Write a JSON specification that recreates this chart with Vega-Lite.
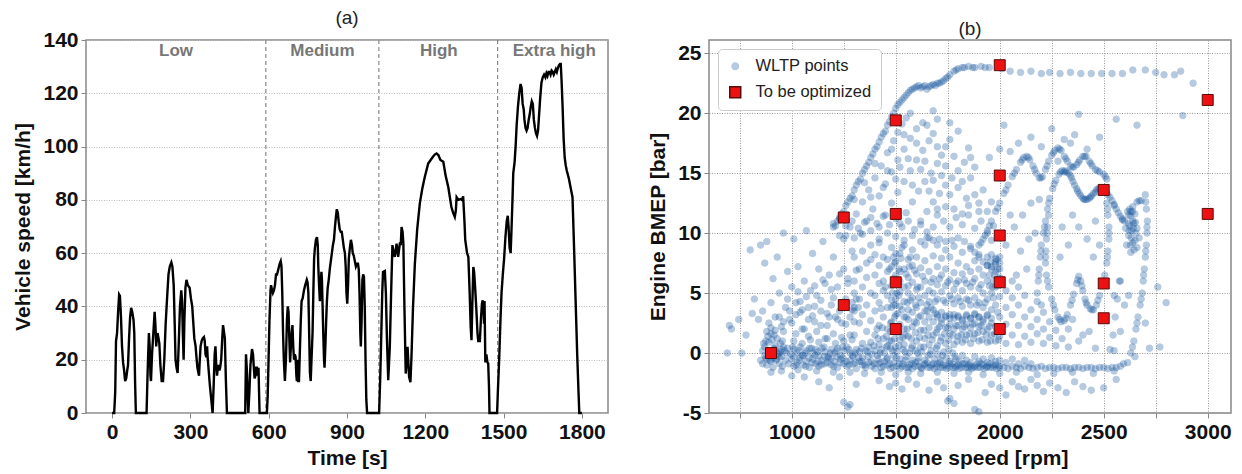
{
"$schema": "https://vega.github.io/schema/vega-lite/v6.json",
"padding": {"left": 12, "top": 8, "right": 2, "bottom": 0},
"spacing": 37,
"resolve": {"scale": {"color": "independent", "shape": "independent", "stroke": "independent", "opacity": "independent", "size": "independent"}, "legend": {"color": "independent", "shape": "independent", "stroke": "independent", "opacity": "independent", "size": "independent"}},
"config": {
  "font": "Liberation Sans",
  "view": {"stroke": "#888", "strokeWidth": 1.5},
  "axis": {"labelFont": "Liberation Sans", "labelFontSize": 21, "labelFontWeight": "bold", "labelColor": "#111", "labelPadding": 3,
           "titleFont": "Liberation Sans", "titleFontSize": 21, "titleFontWeight": "bold", "titleColor": "#111",
           "domain": false, "tickColor": "#888", "tickSize": 5, "gridDash": [1, 1.5], "gridColor": "#999", "gridWidth": 1, "format": "d"},
  "axisY": {"titlePadding": 9},
  "axisX": {"titlePadding": 5},
  "title": {"fontSize": 19, "fontWeight": "normal", "font": "Liberation Sans", "color": "#222", "offset": 1}
},
"datasets": {
"phases": [{"t": 589}, {"t": 1022}, {"t": 1477}],
"plabels": [{"t": 245, "v": 136, "label": "Low"}, {"t": 806, "v": 136, "label": "Medium"}, {"t": 1252, "v": 136, "label": "High"}, {"t": 1694, "v": 136, "label": "Extra high"}],
"speed": [
{"t":0,"v":0},{"t":8,"v":0},{"t":12,"v":8},{"t":15,"v":27},{"t":19,"v":30},{"t":23,"v":38},{"t":27,"v":44.5},{"t":30,"v":44},{"t":34,"v":36},{"t":38,"v":25},{"t":42,"v":19},{"t":46,"v":16},{"t":50,"v":12},{"t":54,"v":13},{"t":58,"v":16},{"t":61,"v":18},{"t":65,"v":28},{"t":69,"v":36},{"t":73,"v":39.5},{"t":77,"v":38},{"t":82,"v":35},{"t":85,"v":30},{"t":88,"v":12},{"t":91,"v":0},
{"t":132,"v":0},{"t":136,"v":15},{"t":141,"v":30},{"t":144,"v":25},{"t":147,"v":14},{"t":149,"v":12},{"t":153,"v":22},{"t":158,"v":30},{"t":163,"v":38},{"t":166,"v":33},{"t":169,"v":25},{"t":171,"v":28},{"t":174,"v":30},{"t":178,"v":28},{"t":181,"v":26},{"t":185,"v":18},{"t":190,"v":12},{"t":195,"v":12},{"t":200,"v":20},{"t":205,"v":33},{"t":210,"v":42},{"t":216,"v":52},{"t":221,"v":55},{"t":227,"v":56.5},{"t":231,"v":55},{"t":236,"v":48},{"t":240,"v":33},{"t":243,"v":20},{"t":247,"v":17},{"t":251,"v":15},{"t":255,"v":25},{"t":260,"v":40},{"t":265,"v":46},{"t":268,"v":42},{"t":271,"v":30},{"t":274,"v":20},{"t":277,"v":35},{"t":281,"v":47},{"t":285,"v":50},{"t":290,"v":48},{"t":297,"v":47},{"t":302,"v":43},{"t":307,"v":40},{"t":311,"v":34},{"t":315,"v":28},{"t":320,"v":25},{"t":324,"v":20},{"t":327,"v":17},{"t":333,"v":14},{"t":336,"v":20},{"t":339,"v":25},{"t":343,"v":27},{"t":347,"v":28},{"t":352,"v":28.5},{"t":355,"v":27},{"t":358,"v":22},{"t":361,"v":21},{"t":364,"v":25},{"t":366,"v":21},{"t":370,"v":16},{"t":375,"v":10},{"t":380,"v":5},{"t":385,"v":0},{"t":389,"v":10},{"t":393,"v":22},{"t":396,"v":25},{"t":399,"v":18},{"t":402,"v":14},{"t":405,"v":17},{"t":408,"v":18},{"t":411,"v":16},{"t":414,"v":17},{"t":418,"v":20},{"t":422,"v":28},{"t":425,"v":33},{"t":428,"v":31},{"t":432,"v":28},{"t":436,"v":12},{"t":440,"v":0},
{"t":510,"v":0},{"t":513,"v":22},{"t":517,"v":15},{"t":520,"v":5},{"t":522,"v":0},{"t":526,"v":8},{"t":530,"v":18},{"t":536,"v":24},{"t":540,"v":22},{"t":543,"v":17},{"t":546,"v":13},{"t":549,"v":14},{"t":552,"v":17},{"t":555,"v":17},{"t":558,"v":14},{"t":561,"v":17},{"t":563,"v":8},{"t":565,"v":0},
{"t":593,"v":0},{"t":596,"v":6},{"t":599,"v":18},{"t":603,"v":35},{"t":607,"v":46},{"t":609,"v":48},{"t":613,"v":46},{"t":616,"v":45},{"t":620,"v":46},{"t":624,"v":48},{"t":628,"v":52},{"t":632,"v":52},{"t":637,"v":54},{"t":642,"v":56},{"t":646,"v":57},{"t":649,"v":55},{"t":652,"v":45},{"t":655,"v":30},{"t":658,"v":20},{"t":662,"v":12},{"t":666,"v":20},{"t":670,"v":35},{"t":673,"v":40},{"t":676,"v":38},{"t":679,"v":28},{"t":682,"v":19},{"t":685,"v":25},{"t":688,"v":30},{"t":691,"v":33},{"t":694,"v":25},{"t":697,"v":20},{"t":700,"v":22},{"t":703,"v":21},{"t":706,"v":14},{"t":708,"v":12},{"t":711,"v":20},{"t":713,"v":12},{"t":716,"v":12},{"t":719,"v":22},{"t":723,"v":35},{"t":726,"v":42},{"t":730,"v":43},{"t":735,"v":46},{"t":740,"v":48},{"t":746,"v":50},{"t":749,"v":49},{"t":752,"v":45},{"t":755,"v":30},{"t":758,"v":15},{"t":761,"v":12},{"t":764,"v":20},{"t":768,"v":30},{"t":771,"v":45},{"t":774,"v":58},{"t":777,"v":62},{"t":781,"v":65},{"t":785,"v":66},{"t":788,"v":63},{"t":790,"v":55},{"t":793,"v":48},{"t":796,"v":42},{"t":799,"v":48},{"t":802,"v":53},{"t":804,"v":50},{"t":806,"v":42},{"t":809,"v":30},{"t":812,"v":20},{"t":814,"v":17},{"t":817,"v":25},{"t":820,"v":34},{"t":823,"v":42},{"t":826,"v":47},{"t":830,"v":50},{"t":834,"v":54},{"t":838,"v":57},{"t":842,"v":60},{"t":846,"v":63},{"t":850,"v":65},{"t":854,"v":70},{"t":858,"v":74},{"t":861,"v":76.5},{"t":865,"v":75},{"t":868,"v":72},{"t":872,"v":69},{"t":876,"v":68},{"t":880,"v":68},{"t":884,"v":65},{"t":888,"v":62},{"t":892,"v":60},{"t":895,"v":55},{"t":898,"v":45},{"t":901,"v":41},{"t":904,"v":48},{"t":907,"v":58},{"t":911,"v":62},{"t":915,"v":65},{"t":919,"v":63},{"t":922,"v":60},{"t":926,"v":59},{"t":930,"v":57},{"t":934,"v":55},{"t":938,"v":56},{"t":942,"v":56},{"t":945,"v":54},{"t":948,"v":45},{"t":951,"v":30},{"t":953,"v":25},{"t":956,"v":35},{"t":959,"v":50},{"t":962,"v":52},{"t":965,"v":51},{"t":968,"v":40},{"t":971,"v":20},{"t":974,"v":5},{"t":977,"v":0},
{"t":1023,"v":0},{"t":1027,"v":12},{"t":1031,"v":28},{"t":1035,"v":45},{"t":1038,"v":52.9},{"t":1045,"v":53.3},{"t":1049,"v":45},{"t":1053,"v":28},{"t":1058,"v":12.3},{"t":1064,"v":24.8},{"t":1069,"v":45},{"t":1074,"v":63},{"t":1079,"v":60},{"t":1083,"v":58.6},{"t":1090,"v":63.6},{"t":1096,"v":58.6},{"t":1103,"v":64},{"t":1106,"v":63},{"t":1109,"v":69.8},{"t":1113,"v":68},{"t":1116,"v":63.6},{"t":1120,"v":40},{"t":1125,"v":14.8},{"t":1129,"v":20},{"t":1132,"v":24.8},{"t":1138,"v":13.5},{"t":1143,"v":11.6},{"t":1147,"v":21},{"t":1153,"v":40},{"t":1160,"v":56},{"t":1169,"v":69},{"t":1179,"v":78.7},{"t":1188,"v":84},{"t":1198,"v":88.6},{"t":1211,"v":93.6},{"t":1228,"v":96},{"t":1236,"v":97},{"t":1243,"v":97.4},{"t":1250,"v":96.8},{"t":1258,"v":95},{"t":1269,"v":94.3},{"t":1278,"v":89},{"t":1288,"v":84.8},{"t":1300,"v":77.3},{"t":1307,"v":75},{"t":1313,"v":73.6},{"t":1317,"v":76},{"t":1320,"v":81},{"t":1327,"v":80},{"t":1335,"v":80.3},{"t":1340,"v":80},{"t":1345,"v":81.3},{"t":1350,"v":72},{"t":1353,"v":65},{"t":1356,"v":62.9},{"t":1360,"v":60},{"t":1365,"v":58.6},{"t":1370,"v":45},{"t":1374,"v":32},{"t":1377,"v":27.3},{"t":1380,"v":40},{"t":1384,"v":54.8},{"t":1387,"v":53},{"t":1390,"v":48.6},{"t":1395,"v":40},{"t":1400,"v":30},{"t":1403,"v":27},{"t":1409,"v":27},{"t":1413,"v":35},{"t":1417,"v":41},{"t":1420,"v":42.3},{"t":1423,"v":40},{"t":1425,"v":33.5},{"t":1427,"v":42},{"t":1430,"v":19},{"t":1434,"v":22},{"t":1438,"v":19},{"t":1441,"v":18.6},{"t":1444,"v":10},{"t":1446,"v":0},
{"t":1475,"v":0},{"t":1478,"v":8},{"t":1483,"v":20},{"t":1488,"v":35},{"t":1492,"v":45},{"t":1497,"v":52},{"t":1502,"v":58},{"t":1507,"v":66},{"t":1512,"v":72},{"t":1516,"v":74},{"t":1519,"v":70},{"t":1523,"v":62},{"t":1527,"v":60},{"t":1530,"v":68},{"t":1534,"v":80},{"t":1537,"v":90},{"t":1542,"v":94},{"t":1546,"v":100},{"t":1550,"v":108},{"t":1555,"v":115},{"t":1560,"v":120},{"t":1565,"v":123.5},{"t":1569,"v":122},{"t":1573,"v":116},{"t":1577,"v":114},{"t":1580,"v":110},{"t":1584,"v":107},{"t":1588,"v":106},{"t":1592,"v":107},{"t":1596,"v":110},{"t":1600,"v":112},{"t":1604,"v":115},{"t":1608,"v":117},{"t":1612,"v":116},{"t":1616,"v":110},{"t":1620,"v":107},{"t":1624,"v":105},{"t":1628,"v":104},{"t":1632,"v":106},{"t":1636,"v":112},{"t":1640,"v":118},{"t":1645,"v":124},{"t":1650,"v":126},{"t":1655,"v":127},{"t":1660,"v":126},{"t":1664,"v":127.5},{"t":1668,"v":126.5},{"t":1672,"v":128},{"t":1676,"v":128},{"t":1680,"v":127},{"t":1684,"v":128.5},{"t":1688,"v":128},{"t":1692,"v":127},{"t":1696,"v":128},{"t":1700,"v":129},{"t":1704,"v":128},{"t":1708,"v":129.5},{"t":1712,"v":130.5},{"t":1716,"v":131},{"t":1719,"v":131},{"t":1722,"v":125},{"t":1726,"v":115},{"t":1730,"v":103},{"t":1734,"v":96},{"t":1738,"v":93},{"t":1742,"v":91},{"t":1750,"v":88},{"t":1758,"v":84},{"t":1764,"v":81},{"t":1770,"v":62},{"t":1776,"v":42},{"t":1782,"v":22},{"t":1787,"v":8},{"t":1790,"v":0},{"t":1800,"v":0}
],
"opt": [{"x":900,"y":0},{"x":1250,"y":4},{"x":1250,"y":11.3},{"x":1500,"y":2},{"x":1500,"y":5.9},{"x":1500,"y":11.6},{"x":1500,"y":19.4},{"x":2000,"y":2},{"x":2000,"y":5.9},{"x":2000,"y":9.8},{"x":2000,"y":14.8},{"x":2000,"y":24},{"x":2500,"y":2.9},{"x":2500,"y":5.8},{"x":2500,"y":13.6},{"x":3000,"y":11.6},{"x":3000,"y":21.1}],
"wltp": [
{"x":850,"y":-0.6},{"x":860,"y":-0.9},{"x":875,"y":-0.4},{"x":880,"y":-1.0},{"x":900,"y":-0.7},{"x":910,"y":-1.2},{"x":925,"y":-0.5},{"x":940,"y":-0.9},{"x":955,"y":-1.1},{"x":970,"y":-0.6},{"x":985,"y":-0.9},{"x":1000,"y":-0.5},{"x":1010,"y":-1.1},{"x":1025,"y":-0.8},{"x":1040,"y":-0.4},{"x":1055,"y":-1.0},{"x":1070,"y":-0.7},{"x":1085,"y":-1.2},{"x":1100,"y":-0.5},{"x":1115,"y":-0.9},{"x":1130,"y":-1.1},{"x":1145,"y":-0.6},{"x":1160,"y":-0.9},{"x":1175,"y":-0.4},{"x":1190,"y":-1.0},{"x":1205,"y":-0.7},{"x":1220,"y":-1.2},{"x":1235,"y":-0.5},{"x":1250,"y":-0.9},{"x":1265,"y":-1.1},{"x":1280,"y":-0.6},{"x":1295,"y":-0.9},{"x":1310,"y":-1.3},{"x":1325,"y":-0.7},{"x":1340,"y":-1.0},{"x":1355,"y":-1.2},{"x":1370,"y":-0.8},{"x":1385,"y":-1.1},{"x":1400,"y":-1.3},{"x":1415,"y":-0.9},{"x":1430,"y":-1.2},{"x":1445,"y":-0.7},{"x":1460,"y":-1.0},{"x":1475,"y":-1.3},{"x":1490,"y":-0.8},{"x":1505,"y":-1.1},{"x":1520,"y":-1.3},{"x":1535,"y":-0.9},{"x":1550,"y":-1.2},{"x":1565,"y":-1.0},{"x":1580,"y":-1.3},{"x":1595,"y":-0.8},{"x":1610,"y":-1.1},{"x":1625,"y":-1.3},{"x":1640,"y":-0.9},{"x":1655,"y":-1.2},{"x":1670,"y":-1.0},{"x":1685,"y":-1.3},{"x":1700,"y":-0.9},{"x":1715,"y":-1.2},{"x":1730,"y":-1.0},{"x":1745,"y":-1.3},{"x":1760,"y":-0.9},{"x":1775,"y":-1.2},{"x":1790,"y":-1.1},{"x":1805,"y":-1.3},{"x":1820,"y":-0.9},{"x":1835,"y":-1.2},{"x":1850,"y":-1.0},{"x":1865,"y":-1.3},{"x":1880,"y":-1.1},{"x":1895,"y":-1.2},{"x":1910,"y":-0.9},{"x":1925,"y":-1.3},{"x":1940,"y":-1.1},{"x":1955,"y":-1.2},{"x":1970,"y":-1.0},{"x":1985,"y":-1.3},{"x":2000,"y":-1.1},{"x":2020,"y":-1.2},{"x":2040,"y":-1.3},{"x":2060,"y":-1.1},{"x":2080,"y":-1.2},{"x":2100,"y":-1.3},{"x":2120,"y":-1.1},{"x":2140,"y":-1.2},{"x":2160,"y":-1.3},{"x":2180,"y":-1.2},{"x":2200,"y":-1.1},{"x":2220,"y":-1.3},{"x":2240,"y":-1.2},{"x":2260,"y":-1.2},{"x":2280,"y":-1.3},{"x":2300,"y":-1.2},{"x":2320,"y":-1.2},{"x":2340,"y":-1.3},{"x":2360,"y":-1.2},{"x":2380,"y":-1.2},{"x":2400,"y":-1.3},{"x":2420,"y":-1.2},{"x":2440,"y":-1.2},{"x":2460,"y":-1.3},{"x":2480,"y":-1.2},{"x":2500,"y":-1.2},{"x":2520,"y":-1.3},{"x":2540,"y":-1.2},{"x":2560,"y":-1.2},{"x":2580,"y":-1.1},{"x":2595,"y":-0.9},
{"x":1008,"y":-0.3},{"x":1022,"y":-1.0},{"x":1037,"y":-0.6},{"x":1052,"y":-0.2},{"x":1067,"y":-1.1},{"x":1082,"y":-0.4},{"x":1097,"y":-0.8},{"x":1112,"y":-0.2},{"x":1127,"y":-0.7},{"x":1142,"y":-1.0},{"x":1157,"y":-0.3},{"x":1172,"y":-0.8},{"x":1187,"y":-0.5},{"x":1202,"y":-1.1},{"x":1217,"y":-0.3},{"x":1232,"y":-0.8},{"x":1247,"y":-0.4},{"x":1262,"y":-0.7},{"x":1277,"y":-1.0},{"x":1292,"y":-0.2},{"x":1307,"y":-0.8},{"x":1322,"y":-0.4},{"x":1337,"y":-0.7},{"x":1352,"y":-1.0},{"x":1367,"y":-0.3},{"x":1382,"y":-0.7},{"x":1397,"y":-0.9},{"x":1412,"y":-0.2},{"x":1427,"y":-0.8},{"x":1442,"y":-1.1},{"x":1457,"y":-0.5},{"x":1472,"y":-0.9},{"x":1487,"y":-1.2},{"x":1502,"y":-0.4},{"x":1517,"y":-0.9},{"x":1532,"y":-1.1},{"x":1547,"y":-0.6},{"x":1562,"y":-1.2},{"x":1577,"y":-0.9},{"x":1592,"y":-1.1},{"x":1607,"y":-0.7},{"x":1622,"y":-1.2},{"x":1637,"y":-1.0},{"x":1652,"y":-0.8},{"x":1667,"y":-1.2},{"x":1682,"y":-0.9},{"x":1697,"y":-1.1},{"x":1712,"y":-0.8},{"x":1727,"y":-1.2},{"x":1742,"y":-1.0},{"x":1757,"y":-1.2},{"x":1772,"y":-0.9},{"x":1787,"y":-1.2},{"x":1802,"y":-1.0},{"x":1817,"y":-1.2},{"x":1832,"y":-0.9},{"x":1847,"y":-1.2},{"x":1862,"y":-1.1},{"x":1877,"y":-1.2},{"x":1892,"y":-0.9},{"x":1907,"y":-1.2},{"x":1922,"y":-1.0},{"x":1937,"y":-1.2},{"x":1952,"y":-0.9},{"x":1967,"y":-1.2},{"x":1982,"y":-1.0},{"x":1997,"y":-1.2},
{"x":915,"y":0.4},{"x":945,"y":0.1},{"x":975,"y":0.0},{"x":1005,"y":0.5},{"x":1035,"y":0.2},{"x":1065,"y":0.0},{"x":1095,"y":0.4},{"x":1125,"y":0.1},{"x":1155,"y":0.5},{"x":1185,"y":0.0},{"x":1215,"y":0.2},{"x":1245,"y":0.5},{"x":1275,"y":0.3},{"x":1305,"y":0.0},{"x":1335,"y":0.4},{"x":1365,"y":0.1},{"x":1395,"y":0.6},{"x":1425,"y":0.0},{"x":1455,"y":0.5},{"x":1485,"y":0.2},{"x":1515,"y":0.6},{"x":1545,"y":0.1},{"x":1575,"y":0.4},{"x":1605,"y":0.0},{"x":1635,"y":0.5},{"x":1665,"y":-0.1},{"x":1695,"y":0.4},{"x":1725,"y":-0.2},{"x":1755,"y":0.3},{"x":1785,"y":-0.3},
{"x":890,"y":0.2},{"x":905,"y":-0.2},{"x":920,"y":0.3},{"x":935,"y":0.0},{"x":950,"y":-0.3},{"x":965,"y":0.2},{"x":980,"y":0.4},{"x":995,"y":-0.1},{"x":1010,"y":0.3},{"x":1025,"y":0.0},{"x":1040,"y":0.5},{"x":1055,"y":-0.2},{"x":1070,"y":0.2},{"x":1085,"y":0.4},{"x":1100,"y":0.0},{"x":1115,"y":0.3},{"x":1130,"y":-0.2},{"x":1145,"y":0.4},{"x":1160,"y":0.1},{"x":1175,"y":-0.3},{"x":1190,"y":0.3},{"x":1205,"y":0.0},{"x":1220,"y":0.4},{"x":1235,"y":-0.2},{"x":1250,"y":0.2},{"x":1265,"y":0.5},{"x":1280,"y":0.0},{"x":1295,"y":-0.3},{"x":1310,"y":0.3},{"x":1325,"y":0.1},{"x":1340,"y":-0.4},{"x":1355,"y":0.2},{"x":1370,"y":0.5},{"x":1385,"y":-0.1},{"x":1400,"y":0.2},{"x":1415,"y":-0.5},{"x":1430,"y":0.3},{"x":1445,"y":0.0},{"x":1460,"y":-0.4},{"x":1475,"y":0.4},{"x":1490,"y":-0.2},{"x":1505,"y":0.1},{"x":1520,"y":-0.5},{"x":1535,"y":0.3},{"x":1550,"y":-0.3},{"x":1565,"y":0.0},{"x":1580,"y":-0.6},{"x":1595,"y":0.2},{"x":1610,"y":-0.4},{"x":1625,"y":0.1},{"x":1640,"y":-0.6},{"x":1655,"y":-0.2},{"x":1670,"y":0.2},{"x":1685,"y":-0.5},{"x":1700,"y":-0.1},{"x":1715,"y":-0.6},{"x":1730,"y":0.1},{"x":1745,"y":-0.4},{"x":1760,"y":-0.7},{"x":1775,"y":0.0},{"x":1790,"y":-0.5},{"x":1805,"y":-0.7},{"x":1820,"y":-0.2},{"x":1840,"y":-0.6},{"x":1860,"y":-0.8},{"x":1880,"y":-0.3},{"x":1900,"y":-0.7},{"x":1920,"y":-0.5},{"x":1940,"y":-0.8},{"x":1960,"y":-0.4},{"x":1980,"y":-0.7},{"x":2000,"y":-0.6},{"x":2030,"y":-0.8},{"x":2060,"y":-0.5},{"x":2090,"y":-0.9},{"x":2120,"y":-0.6},{"x":2150,"y":-0.9},
{"x":950,"y":-1.5},{"x":1030,"y":-1.4},{"x":1120,"y":-1.5},{"x":1200,"y":-1.6},{"x":1280,"y":-1.6},{"x":1350,"y":-1.7},{"x":1430,"y":-1.6},{"x":1500,"y":-1.8},{"x":1560,"y":-1.6},{"x":1620,"y":-1.7},{"x":1700,"y":-1.6},{"x":1780,"y":-1.7},{"x":1850,"y":-1.6},{"x":1920,"y":-1.8},{"x":2000,"y":-1.7},{"x":2080,"y":-1.6},{"x":2180,"y":-1.8},{"x":2260,"y":-1.7},{"x":2350,"y":-1.6},{"x":2450,"y":-1.7},{"x":2550,"y":-1.5},
{"x":1250,"y":-4.1},{"x":1280,"y":-4.3},{"x":1270,"y":-4.5},{"x":1130,"y":-2.4},{"x":1180,"y":-2.9},{"x":1230,"y":-2.0},{"x":1310,"y":-2.6},{"x":1420,"y":-2.3},{"x":1470,"y":-2.8},{"x":1500,"y":-2.5},{"x":1530,"y":-3.0},{"x":1560,"y":-2.2},{"x":1600,"y":-2.6},{"x":1660,"y":-3.1},{"x":1700,"y":-2.4},{"x":1730,"y":-2.9},{"x":1760,"y":-3.8},{"x":1780,"y":-4.2},{"x":1800,"y":-2.7},{"x":1850,"y":-2.2},{"x":1880,"y":-4.7},{"x":1900,"y":-4.9},{"x":1930,"y":-3.3},{"x":1960,"y":-2.6},{"x":2000,"y":-2.9},{"x":2030,"y":-3.5},{"x":2060,"y":-2.4},{"x":2090,"y":-2.8},{"x":2120,"y":-3.0},{"x":2150,"y":-2.2},{"x":2180,"y":-2.7},{"x":2210,"y":-3.2},{"x":2240,"y":-2.5},{"x":2280,"y":-2.9},{"x":2320,"y":-3.3},{"x":2360,"y":-2.4},{"x":2400,"y":-2.8},{"x":2440,"y":-3.1},{"x":2500,"y":-2.9},{"x":2560,"y":-2.2},{"x":1060,"y":-2.0},{"x":1000,"y":-1.9},{"x":900,"y":-1.6},{"x":1750,"y":-4.0},
{"x":870,"y":0.5},{"x":875,"y":1.0},{"x":885,"y":1.4},{"x":900,"y":1.6},{"x":915,"y":1.5},{"x":930,"y":1.2},{"x":945,"y":0.8},{"x":950,"y":0.3},{"x":870,"y":-0.2},{"x":880,"y":-0.5},{"x":895,"y":-0.6},{"x":910,"y":-0.4},{"x":925,"y":-0.6},{"x":940,"y":-0.3},{"x":860,"y":0.2},{"x":865,"y":0.8},{"x":890,"y":0.9},{"x":905,"y":1.1},{"x":920,"y":0.6},{"x":935,"y":-0.1},{"x":955,"y":1.0},{"x":960,"y":0.5},{"x":880,"y":1.8},{"x":900,"y":2.1},{"x":920,"y":1.9},
{"x":690,"y":0.0},{"x":700,"y":2.3},{"x":710,"y":2.0},{"x":745,"y":2.8},{"x":760,"y":0.0},{"x":780,"y":1.5},{"x":800,"y":8.6},{"x":810,"y":3.3},{"x":820,"y":4.5},{"x":840,"y":2.8},{"x":850,"y":9.0},{"x":860,"y":3.5},{"x":870,"y":7.5},{"x":880,"y":9.3},{"x":890,"y":2.5},{"x":900,"y":4.2},{"x":910,"y":6.2},{"x":920,"y":3.0},{"x":930,"y":8.0},{"x":940,"y":5.0},{"x":950,"y":2.2},{"x":960,"y":10.0},{"x":970,"y":3.8},{"x":980,"y":6.8},{"x":990,"y":2.8},{"x":1000,"y":5.5},{"x":1010,"y":9.5},{"x":1020,"y":3.2},{"x":1030,"y":7.2},{"x":1040,"y":4.3},{"x":1050,"y":2.0},{"x":1060,"y":6.0},{"x":1070,"y":10.2},{"x":1080,"y":3.8},{"x":1090,"y":5.2},{"x":1100,"y":8.3},{"x":1110,"y":2.6},{"x":1120,"y":4.8},{"x":1130,"y":7.0},{"x":1140,"y":3.5},{"x":1150,"y":9.3},{"x":1160,"y":5.8},{"x":1170,"y":2.3},{"x":1180,"y":6.5},{"x":1190,"y":4.0},{"x":1200,"y":8.0},{"x":1210,"y":3.0},{"x":1220,"y":5.5},{"x":1230,"y":9.8},{"x":1240,"y":2.5},{"x":1250,"y":7.0},{"x":1260,"y":4.5},{"x":1270,"y":6.2},{"x":1280,"y":3.0},{"x":1290,"y":8.5},{"x":1300,"y":5.0},{"x":940,"y":3.0},{"x":960,"y":1.8},{"x":980,"y":4.5},{"x":1000,"y":2.5},{"x":1020,"y":1.6},{"x":1040,"y":3.4},{"x":1060,"y":2.0},{"x":1080,"y":1.4},{"x":1100,"y":3.1},{"x":1120,"y":1.8},{"x":1140,"y":2.3},{"x":1160,"y":1.2},{"x":1180,"y":3.0},{"x":1200,"y":1.6},{"x":1220,"y":2.8},{"x":1240,"y":1.3},{"x":1260,"y":2.4},{"x":1280,"y":1.5},{"x":1300,"y":2.6},{"x":1010,"y":1.0},{"x":1050,"y":0.8},{"x":1090,"y":1.1},{"x":1130,"y":0.9},{"x":1170,"y":1.2},{"x":1210,"y":0.8},{"x":1250,"y":1.0},{"x":1290,"y":1.1},
{"x":960,"y":2.6},{"x":990,"y":3.5},{"x":1020,"y":4.2},{"x":1050,"y":3.6},{"x":1080,"y":2.8},{"x":1110,"y":3.9},{"x":1140,"y":4.4},{"x":1170,"y":3.3},{"x":1200,"y":4.6},{"x":1230,"y":3.5},{"x":1260,"y":4.2},{"x":1290,"y":3.6},{"x":1030,"y":5.1},{"x":1070,"y":4.7},{"x":1110,"y":5.6},{"x":1150,"y":6.1},{"x":1190,"y":5.3},{"x":1230,"y":6.6},{"x":1270,"y":5.8},{"x":1310,"y":6.9},
{"x":1200,"y":10.5},{"x":1220,"y":11.0},{"x":1240,"y":11.6},{"x":1260,"y":12.3},{"x":1280,"y":12.9},{"x":1300,"y":13.6},{"x":1320,"y":14.3},{"x":1340,"y":15.0},{"x":1360,"y":15.6},{"x":1380,"y":16.3},{"x":1400,"y":17.0},{"x":1420,"y":17.6},{"x":1440,"y":18.3},{"x":1460,"y":19.0},{"x":1480,"y":19.7},{"x":1500,"y":20.4},{"x":1520,"y":20.9},{"x":1540,"y":21.3},{"x":1560,"y":21.7},{"x":1580,"y":22.0},{"x":1600,"y":22.2},{"x":1620,"y":22.1},{"x":1640,"y":22.3},{"x":1660,"y":22.2},{"x":1680,"y":22.4},{"x":1700,"y":22.5},{"x":1720,"y":22.6},{"x":1740,"y":22.9},{"x":1760,"y":23.2},{"x":1780,"y":23.5},{"x":1800,"y":23.7},{"x":1820,"y":23.8},{"x":1850,"y":23.9},{"x":1880,"y":23.8},{"x":1910,"y":23.9},{"x":1950,"y":23.8},
{"x":1210,"y":10.6},{"x":1250,"y":11.8},{"x":1290,"y":13.1},{"x":1330,"y":14.5},{"x":1370,"y":15.9},{"x":1410,"y":17.2},{"x":1450,"y":18.5},{"x":1490,"y":20.0},{"x":1530,"y":21.1},{"x":1570,"y":21.9},{"x":1610,"y":22.3},{"x":1650,"y":22.0},{"x":1690,"y":22.3},{"x":1730,"y":22.7},
{"x":1230,"y":11.3},{"x":1270,"y":12.6},{"x":1310,"y":14.0},{"x":1350,"y":15.3},{"x":1390,"y":16.6},{"x":1430,"y":18.0},{"x":1470,"y":19.3},{"x":1510,"y":20.7},{"x":1550,"y":21.5},{"x":1590,"y":22.1},{"x":1630,"y":22.2},{"x":1670,"y":22.3},{"x":1710,"y":22.5},{"x":1750,"y":23.0},{"x":1790,"y":23.6},{"x":1830,"y":23.8},{"x":1870,"y":23.8},{"x":1930,"y":23.8},
{"x":2010,"y":23.7},{"x":2050,"y":23.5},{"x":2100,"y":23.4},{"x":2150,"y":23.5},{"x":2200,"y":23.3},{"x":2240,"y":23.4},{"x":2290,"y":23.3},{"x":2340,"y":23.4},{"x":2390,"y":23.3},{"x":2440,"y":23.3},{"x":2490,"y":23.3},{"x":2540,"y":23.3},{"x":2590,"y":23.3},{"x":2640,"y":23.6},{"x":2700,"y":23.6},{"x":2750,"y":23.4},{"x":2790,"y":23.2},{"x":2840,"y":23.2},{"x":2870,"y":23.5},{"x":2930,"y":22.5},{"x":2880,"y":19.8},{"x":2660,"y":19.0},{"x":2380,"y":19.9},{"x":2310,"y":17.8},{"x":2250,"y":18.7},
{"x":1250,"y":9.5},{"x":1280,"y":10.5},{"x":1310,"y":11.6},{"x":1340,"y":12.6},{"x":1370,"y":13.6},{"x":1400,"y":14.6},{"x":1430,"y":15.6},{"x":1460,"y":16.7},{"x":1490,"y":17.7},{"x":1510,"y":18.4},{"x":1530,"y":19.1},{"x":1550,"y":19.6},{"x":1570,"y":20.0},
{"x":1330,"y":10.0},{"x":1360,"y":11.0},{"x":1390,"y":12.0},{"x":1420,"y":13.1},{"x":1450,"y":14.1},{"x":1480,"y":15.1},{"x":1510,"y":16.1},{"x":1540,"y":17.0},{"x":1570,"y":17.9},{"x":1600,"y":18.7},{"x":1630,"y":19.2},
{"x":1420,"y":10.5},{"x":1450,"y":11.5},{"x":1480,"y":12.5},{"x":1510,"y":13.4},{"x":1540,"y":14.3},{"x":1570,"y":15.2},{"x":1600,"y":16.1},{"x":1630,"y":16.9},{"x":1660,"y":17.7},{"x":1680,"y":18.3},
{"x":1520,"y":10.8},{"x":1550,"y":11.7},{"x":1580,"y":12.6},{"x":1610,"y":13.5},{"x":1640,"y":14.3},{"x":1670,"y":15.0},{"x":1700,"y":15.8},{"x":1720,"y":16.5},{"x":1740,"y":17.2},{"x":1760,"y":17.8},
{"x":1620,"y":11.0},{"x":1650,"y":11.8},{"x":1680,"y":12.6},{"x":1710,"y":13.3},{"x":1740,"y":14.0},{"x":1770,"y":14.6},{"x":1800,"y":15.2},{"x":1830,"y":15.9},{"x":1860,"y":16.3},
{"x":1300,"y":12.8},{"x":1350,"y":14.2},{"x":1380,"y":13.0},{"x":1400,"y":15.8},{"x":1440,"y":13.8},{"x":1460,"y":15.2},{"x":1480,"y":17.0},{"x":1500,"y":14.5},{"x":1520,"y":15.5},{"x":1540,"y":18.2},{"x":1560,"y":16.2},{"x":1580,"y":14.0},{"x":1600,"y":17.5},{"x":1620,"y":15.3},{"x":1640,"y":16.0},{"x":1660,"y":13.5},{"x":1680,"y":14.4},{"x":1700,"y":17.2},{"x":1720,"y":14.8},{"x":1740,"y":15.6},{"x":1760,"y":13.2},{"x":1780,"y":16.4},{"x":1800,"y":13.8},{"x":1820,"y":14.3},{"x":1840,"y":12.9},{"x":1860,"y":14.6},{"x":1880,"y":13.2},{"x":1900,"y":12.5},{"x":1920,"y":13.6},{"x":1940,"y":11.8},{"x":1960,"y":12.6},{"x":1880,"y":15.5},{"x":1850,"y":17.1},{"x":1800,"y":18.5},{"x":1760,"y":19.2},{"x":1700,"y":19.5},{"x":1680,"y":20.2},{"x":1650,"y":19.0},{"x":1820,"y":11.6},{"x":1780,"y":12.0},{"x":1740,"y":12.2},{"x":1700,"y":11.5},
{"x":1200,"y":10.8},{"x":1230,"y":11.2},{"x":1260,"y":10.6},{"x":1290,"y":11.0},{"x":1320,"y":10.4},{"x":1350,"y":10.9},{"x":1380,"y":11.3},{"x":1410,"y":10.8},{"x":1440,"y":11.4},{"x":1470,"y":10.7},{"x":1500,"y":11.2},{"x":1530,"y":10.5},{"x":1560,"y":11.0},{"x":1590,"y":10.3},{"x":1620,"y":10.7},{"x":1650,"y":10.1},{"x":1680,"y":10.5},{"x":1260,"y":9.8},{"x":1300,"y":9.6},{"x":1340,"y":9.9},{"x":1380,"y":10.2},{"x":1420,"y":9.5},{"x":1460,"y":10.0},{"x":1500,"y":9.7},{"x":1540,"y":9.4},{"x":1580,"y":9.8},{"x":1620,"y":9.3},{"x":1660,"y":9.6},{"x":1700,"y":9.0},{"x":1740,"y":8.6},{"x":1780,"y":8.9},{"x":1820,"y":8.4},{"x":1860,"y":8.7},{"x":1900,"y":8.2},{"x":1940,"y":8.0},{"x":1980,"y":7.6},
{"x":1300,"y":1.5},{"x":1300,"y":3.8},{"x":1300,"y":6.0},{"x":1300,"y":8.0},{"x":1325,"y":2.5},{"x":1325,"y":4.5},{"x":1325,"y":7.0},{"x":1340,"y":0.8},{"x":1340,"y":3.2},{"x":1340,"y":5.5},{"x":1340,"y":8.5},{"x":1360,"y":1.8},{"x":1360,"y":4.0},{"x":1360,"y":6.3},{"x":1360,"y":7.5},{"x":1380,"y":0.9},{"x":1380,"y":2.7},{"x":1380,"y":5.0},{"x":1380,"y":7.8},{"x":1380,"y":9.0},{"x":1400,"y":1.5},{"x":1400,"y":3.5},{"x":1400,"y":4.8},{"x":1400,"y":6.5},{"x":1400,"y":8.2},{"x":1420,"y":0.7},{"x":1420,"y":2.3},{"x":1420,"y":4.2},{"x":1420,"y":5.8},{"x":1420,"y":7.3},{"x":1420,"y":9.2},{"x":1440,"y":1.2},{"x":1440,"y":3.0},{"x":1440,"y":5.2},{"x":1440,"y":6.0},{"x":1440,"y":8.0},{"x":1460,"y":0.6},{"x":1460,"y":2.0},{"x":1460,"y":3.8},{"x":1460,"y":4.8},{"x":1460,"y":6.8},{"x":1460,"y":7.8},{"x":1480,"y":1.0},{"x":1480,"y":2.6},{"x":1480,"y":4.4},{"x":1480,"y":5.6},{"x":1480,"y":7.2},{"x":1480,"y":8.8},{"x":1500,"y":0.5},{"x":1500,"y":1.8},{"x":1500,"y":3.2},{"x":1500,"y":4.5},{"x":1500,"y":6.5},{"x":1500,"y":7.6},{"x":1520,"y":1.1},{"x":1520,"y":2.4},{"x":1520,"y":3.9},{"x":1520,"y":5.1},{"x":1520,"y":6.0},{"x":1520,"y":8.3},{"x":1540,"y":0.7},{"x":1540,"y":2.0},{"x":1540,"y":3.0},{"x":1540,"y":4.3},{"x":1540,"y":5.5},{"x":1540,"y":7.0},{"x":1540,"y":9.0},{"x":1560,"y":1.4},{"x":1560,"y":2.8},{"x":1560,"y":3.6},{"x":1560,"y":5.0},{"x":1560,"y":6.3},{"x":1560,"y":7.8},{"x":1580,"y":0.6},{"x":1580,"y":2.2},{"x":1580,"y":3.4},{"x":1580,"y":4.6},{"x":1580,"y":5.9},{"x":1580,"y":7.3},{"x":1580,"y":8.6},{"x":1600,"y":1.0},{"x":1600,"y":2.5},{"x":1600,"y":3.8},{"x":1600,"y":5.3},{"x":1600,"y":6.6},{"x":1600,"y":8.0},{"x":1620,"y":0.5},{"x":1620,"y":1.9},{"x":1620,"y":3.1},{"x":1620,"y":4.2},{"x":1620,"y":5.5},{"x":1620,"y":7.1},{"x":1640,"y":1.2},{"x":1640,"y":2.6},{"x":1640,"y":3.5},{"x":1640,"y":4.8},{"x":1640,"y":6.0},{"x":1640,"y":7.7},{"x":1640,"y":9.0},{"x":1660,"y":0.7},{"x":1660,"y":2.1},{"x":1660,"y":3.0},{"x":1660,"y":4.3},{"x":1660,"y":5.2},{"x":1660,"y":6.8},{"x":1680,"y":1.5},{"x":1680,"y":2.6},{"x":1680,"y":3.6},{"x":1680,"y":5.0},{"x":1680,"y":6.2},{"x":1680,"y":8.1},{"x":1700,"y":0.6},{"x":1700,"y":2.0},{"x":1700,"y":3.2},{"x":1700,"y":4.5},{"x":1700,"y":5.7},{"x":1700,"y":7.2},{"x":1720,"y":1.3},{"x":1720,"y":2.5},{"x":1720,"y":3.4},{"x":1720,"y":5.1},{"x":1720,"y":6.5},{"x":1720,"y":7.9},{"x":1740,"y":0.8},{"x":1740,"y":2.1},{"x":1740,"y":3.0},{"x":1740,"y":4.2},{"x":1740,"y":5.6},{"x":1740,"y":7.0},{"x":1760,"y":1.6},{"x":1760,"y":2.4},{"x":1760,"y":3.2},{"x":1760,"y":4.8},{"x":1760,"y":6.1},{"x":1760,"y":8.0},{"x":1780,"y":0.7},{"x":1780,"y":2.0},{"x":1780,"y":2.9},{"x":1780,"y":4.1},{"x":1780,"y":5.3},{"x":1780,"y":6.7},{"x":1800,"y":1.4},{"x":1800,"y":2.3},{"x":1800,"y":3.1},{"x":1800,"y":4.6},{"x":1800,"y":6.0},{"x":1800,"y":7.5},{"x":1820,"y":0.9},{"x":1820,"y":2.0},{"x":1820,"y":2.8},{"x":1820,"y":3.9},{"x":1820,"y":5.2},{"x":1820,"y":6.6},{"x":1840,"y":1.5},{"x":1840,"y":2.4},{"x":1840,"y":3.2},{"x":1840,"y":4.5},{"x":1840,"y":5.8},{"x":1840,"y":7.2},{"x":1860,"y":0.8},{"x":1860,"y":2.1},{"x":1860,"y":2.9},{"x":1860,"y":4.0},{"x":1860,"y":5.5},{"x":1860,"y":6.8},{"x":1880,"y":1.6},{"x":1880,"y":2.5},{"x":1880,"y":3.3},{"x":1880,"y":4.6},{"x":1880,"y":6.2},{"x":1880,"y":7.7},{"x":1900,"y":1.0},{"x":1900,"y":2.2},{"x":1900,"y":3.0},{"x":1900,"y":4.2},{"x":1900,"y":5.4},{"x":1900,"y":7.0},{"x":1920,"y":1.8},{"x":1920,"y":2.6},{"x":1920,"y":3.8},{"x":1920,"y":5.0},{"x":1920,"y":6.5},{"x":1940,"y":0.9},{"x":1940,"y":2.0},{"x":1940,"y":3.2},{"x":1940,"y":4.5},{"x":1940,"y":6.0},{"x":1940,"y":7.3},{"x":1960,"y":1.5},{"x":1960,"y":2.5},{"x":1960,"y":3.6},{"x":1960,"y":5.0},{"x":1960,"y":7.0},{"x":1980,"y":1.0},{"x":1980,"y":2.2},{"x":1980,"y":4.0},{"x":1980,"y":5.5},{"x":1980,"y":6.8},{"x":2000,"y":1.4},{"x":2000,"y":3.0},{"x":2000,"y":4.7},{"x":2000,"y":6.3},{"x":2000,"y":7.5},{"x":2030,"y":0.8},{"x":2030,"y":2.4},{"x":2030,"y":3.8},{"x":2030,"y":5.2},{"x":2060,"y":1.5},{"x":2060,"y":3.2},{"x":2060,"y":4.6},{"x":2060,"y":6.0},{"x":2090,"y":0.7},{"x":2090,"y":2.3},{"x":2090,"y":4.0},{"x":2090,"y":5.5},{"x":2120,"y":1.4},{"x":2120,"y":3.0},{"x":2120,"y":4.8},{"x":2150,"y":0.9},{"x":2150,"y":2.2},{"x":2150,"y":3.6},{"x":2180,"y":1.6},{"x":2180,"y":2.8},{"x":2180,"y":4.3},{"x":2210,"y":0.8},{"x":2210,"y":2.0},{"x":2210,"y":3.4},{"x":2240,"y":1.3},{"x":2240,"y":2.6},{"x":2270,"y":0.6},{"x":2270,"y":1.9},{"x":2300,"y":1.2},{"x":2330,"y":0.5},{"x":2330,"y":2.0},{"x":2380,"y":1.0},{"x":2430,"y":1.8},
{"x":1410,"y":2.0},{"x":1430,"y":3.7},{"x":1450,"y":5.5},{"x":1470,"y":7.0},{"x":1490,"y":4.0},{"x":1510,"y":5.8},{"x":1530,"y":3.6},{"x":1550,"y":6.6},{"x":1570,"y":4.4},{"x":1590,"y":6.9},{"x":1610,"y":4.6},{"x":1630,"y":6.4},{"x":1650,"y":4.0},{"x":1670,"y":5.9},{"x":1690,"y":4.3},{"x":1710,"y":6.2},{"x":1730,"y":4.4},{"x":1750,"y":5.9},{"x":1770,"y":4.5},{"x":1790,"y":5.8},{"x":1810,"y":4.3},{"x":1830,"y":6.1},{"x":1850,"y":4.4},{"x":1870,"y":5.9},{"x":1890,"y":4.0},{"x":1910,"y":5.7},{"x":1930,"y":4.2},{"x":1950,"y":5.6},{"x":1970,"y":4.6},{"x":1990,"y":3.4},{"x":1415,"y":1.2},{"x":1435,"y":2.1},{"x":1455,"y":1.4},{"x":1475,"y":1.8},{"x":1495,"y":1.2},{"x":1515,"y":1.7},{"x":1535,"y":1.3},{"x":1555,"y":2.0},{"x":1575,"y":1.2},{"x":1595,"y":1.7},{"x":1615,"y":1.3},{"x":1635,"y":1.9},{"x":1655,"y":1.5},{"x":1675,"y":1.1},{"x":1695,"y":1.7},{"x":1715,"y":1.0},{"x":1735,"y":1.6},{"x":1755,"y":1.1},{"x":1775,"y":1.5},{"x":1795,"y":1.0},{"x":1815,"y":1.5},{"x":1835,"y":1.1},{"x":1855,"y":1.6},{"x":1875,"y":1.2},{"x":1895,"y":1.7},{"x":1915,"y":1.1},{"x":1935,"y":1.5},{"x":1955,"y":1.0},{"x":1975,"y":1.6},{"x":1995,"y":1.1},
{"x":1495,"y":3.0},{"x":1500,"y":4.0},{"x":1505,"y":5.0},{"x":1510,"y":6.0},{"x":1515,"y":7.0},{"x":1500,"y":8.3},{"x":1490,"y":8.0},
{"x":1470,"y":1.0},{"x":1475,"y":2.5},{"x":1480,"y":3.8},{"x":1485,"y":5.0},{"x":1490,"y":6.2},{"x":1495,"y":7.5},{"x":1505,"y":2.0},{"x":1510,"y":3.3},{"x":1515,"y":4.8},{"x":1520,"y":6.8},{"x":1525,"y":7.9},{"x":1530,"y":8.8},{"x":1545,"y":1.5},{"x":1550,"y":3.0},{"x":1555,"y":4.2},{"x":1560,"y":5.6},{"x":1565,"y":7.2},{"x":1570,"y":8.0},{"x":1590,"y":2.6},{"x":1595,"y":4.0},{"x":1605,"y":5.5},{"x":1610,"y":3.0},
{"x":1700,"y":3.0},{"x":1720,"y":2.8},{"x":1740,"y":3.1},{"x":1760,"y":2.9},{"x":1780,"y":3.2},{"x":1800,"y":3.0},{"x":1820,"y":2.7},{"x":1840,"y":3.1},{"x":1860,"y":2.9},{"x":1880,"y":3.2},{"x":1900,"y":3.0},{"x":1920,"y":2.8},{"x":1940,"y":3.1},{"x":1960,"y":2.9},{"x":1710,"y":2.2},{"x":1750,"y":2.1},{"x":1790,"y":2.3},{"x":1830,"y":2.2},{"x":1870,"y":2.4},{"x":1910,"y":2.3},{"x":1950,"y":2.2},{"x":1650,"y":3.5},{"x":1670,"y":3.8},{"x":1690,"y":3.3},
{"x":1290,"y":4.2},{"x":1300,"y":3.5},{"x":1310,"y":4.5},{"x":1320,"y":3.8},
{"x":1650,"y":9.6},{"x":1680,"y":9.4},{"x":1710,"y":9.5},{"x":1740,"y":9.3},{"x":1770,"y":9.4},{"x":1800,"y":9.6},{"x":1830,"y":9.3},{"x":1860,"y":8.9},{"x":1880,"y":8.4},{"x":1900,"y":8.0},{"x":1920,"y":7.6},{"x":1940,"y":7.3},{"x":1960,"y":7.2},{"x":1980,"y":7.4},{"x":2000,"y":7.0},{"x":1950,"y":6.5},{"x":1970,"y":6.0},{"x":1990,"y":5.6},{"x":2000,"y":6.2},{"x":1985,"y":7.8},{"x":2000,"y":8.0},{"x":1960,"y":8.2},
{"x":1975,"y":6.5},{"x":1990,"y":7.0},{"x":1995,"y":6.0},{"x":1965,"y":5.5},{"x":1980,"y":7.9},{"x":1955,"y":7.6},
{"x":1900,"y":9.0},{"x":1920,"y":9.5},{"x":1940,"y":10.2},{"x":1960,"y":11.0},{"x":1980,"y":11.8},{"x":2000,"y":12.5},{"x":2020,"y":13.3},{"x":2040,"y":14.0},{"x":2060,"y":14.7},{"x":2080,"y":15.3},{"x":2100,"y":15.9},{"x":2115,"y":16.3},{"x":2130,"y":16.4},{"x":2145,"y":16.1},{"x":2160,"y":15.6},{"x":2175,"y":15.0},{"x":2190,"y":14.6},{"x":2205,"y":14.7},{"x":2220,"y":15.3},{"x":2235,"y":16.0},{"x":2250,"y":16.5},{"x":2265,"y":16.9},{"x":2280,"y":17.1},{"x":2295,"y":16.9},{"x":2310,"y":16.4},{"x":2325,"y":16.0},{"x":2340,"y":15.6},{"x":2355,"y":15.5},{"x":2370,"y":15.7},{"x":2385,"y":16.1},{"x":2400,"y":16.4},{"x":2415,"y":16.4},{"x":2430,"y":16.0},{"x":2445,"y":15.6},{"x":2460,"y":15.3},{"x":2480,"y":15.1},{"x":2500,"y":14.9},{"x":2515,"y":14.5},
{"x":1910,"y":9.2},{"x":1950,"y":10.6},{"x":1990,"y":12.1},{"x":2030,"y":13.6},{"x":2070,"y":15.0},{"x":2108,"y":16.1},{"x":2138,"y":16.3},{"x":2168,"y":15.3},{"x":2198,"y":14.6},{"x":2228,"y":15.6},{"x":2258,"y":16.7},{"x":2288,"y":17.0},{"x":2318,"y":16.2},{"x":2348,"y":15.5},{"x":2378,"y":15.9},{"x":2408,"y":16.4},{"x":2438,"y":15.8},{"x":2470,"y":15.2},{"x":2508,"y":14.7},
{"x":2180,"y":5.0},{"x":2185,"y":6.0},{"x":2190,"y":7.0},{"x":2195,"y":8.0},{"x":2200,"y":9.0},{"x":2210,"y":10.0},{"x":2220,"y":11.0},{"x":2230,"y":12.0},{"x":2240,"y":12.9},{"x":2255,"y":13.7},{"x":2270,"y":14.4},{"x":2285,"y":14.9},{"x":2300,"y":15.2},{"x":2315,"y":15.2},{"x":2330,"y":15.0},{"x":2345,"y":14.6},{"x":2360,"y":14.0},{"x":2375,"y":13.5},{"x":2390,"y":13.1},{"x":2405,"y":12.8},{"x":2420,"y":12.8},{"x":2435,"y":13.0},{"x":2450,"y":13.3},{"x":2465,"y":13.6},{"x":2480,"y":13.7},{"x":2500,"y":13.6},{"x":2520,"y":13.2},{"x":2540,"y":12.7},{"x":2560,"y":12.0},{"x":2580,"y":11.4},{"x":2600,"y":11.0},{"x":2620,"y":11.5},{"x":2640,"y":12.2},{"x":2660,"y":12.6},{"x":2680,"y":12.7},{"x":2700,"y":13.2},{"x":2705,"y":12.0},{"x":2710,"y":11.0},{"x":2708,"y":10.0},{"x":2705,"y":9.0},{"x":2700,"y":8.0},{"x":2695,"y":7.0},{"x":2690,"y":6.0},{"x":2685,"y":5.0},{"x":2675,"y":4.0},{"x":2665,"y":3.0},{"x":2655,"y":2.0},{"x":2645,"y":1.0},{"x":2630,"y":0.0},{"x":2615,"y":-0.8},
{"x":2188,"y":6.5},{"x":2198,"y":8.5},{"x":2215,"y":10.5},{"x":2235,"y":12.5},{"x":2262,"y":14.1},{"x":2292,"y":15.1},{"x":2322,"y":15.1},{"x":2352,"y":14.3},{"x":2382,"y":13.3},{"x":2412,"y":12.8},{"x":2442,"y":13.1},{"x":2472,"y":13.7},{"x":2510,"y":13.4},{"x":2550,"y":12.3},{"x":2590,"y":11.1},{"x":2630,"y":11.8},{"x":2670,"y":12.7},{"x":2702,"y":12.6},{"x":2708,"y":10.5},{"x":2702,"y":8.5},{"x":2692,"y":6.5},{"x":2680,"y":4.5},{"x":2660,"y":2.5},{"x":2638,"y":0.5},
{"x":2310,"y":15.1},{"x":2340,"y":14.8},{"x":2370,"y":13.7},{"x":2400,"y":12.9},{"x":2430,"y":12.9},{"x":2460,"y":13.4},{"x":2490,"y":13.7},{"x":2530,"y":13.0},{"x":2550,"y":12.4},{"x":2570,"y":11.7},{"x":2590,"y":11.2},
{"x":2235,"y":11.5},{"x":2230,"y":10.5},{"x":2225,"y":9.5},{"x":2222,"y":8.5},{"x":2220,"y":7.5},{"x":2225,"y":6.5},{"x":2235,"y":5.5},{"x":2250,"y":4.5},{"x":2265,"y":3.6},{"x":2280,"y":3.0},{"x":2295,"y":2.6},{"x":2310,"y":2.7},{"x":2325,"y":3.2},{"x":2340,"y":4.0},{"x":2355,"y":4.9},{"x":2370,"y":5.8},{"x":2380,"y":6.4},{"x":2390,"y":6.0},{"x":2400,"y":5.2},{"x":2410,"y":4.5},{"x":2420,"y":4.0},{"x":2435,"y":3.7},{"x":2450,"y":3.6},{"x":2465,"y":4.0},{"x":2480,"y":4.8},{"x":2495,"y":5.6},{"x":2505,"y":6.5},{"x":2515,"y":7.5},{"x":2520,"y":8.5},{"x":2525,"y":9.5},{"x":2525,"y":10.5},{"x":2520,"y":11.5},{"x":2515,"y":12.5},
{"x":2228,"y":10.0},{"x":2221,"y":8.0},{"x":2230,"y":6.0},{"x":2258,"y":4.0},{"x":2288,"y":2.8},{"x":2318,"y":2.9},{"x":2348,"y":4.4},{"x":2375,"y":6.1},{"x":2395,"y":5.6},{"x":2415,"y":4.2},{"x":2443,"y":3.6},{"x":2472,"y":4.4},{"x":2500,"y":6.0},{"x":2518,"y":8.0},{"x":2525,"y":10.0},{"x":2518,"y":12.0},
{"x":2610,"y":9.0},{"x":2620,"y":9.8},{"x":2625,"y":10.6},{"x":2630,"y":11.4},{"x":2635,"y":10.2},{"x":2640,"y":9.2},{"x":2645,"y":10.8},{"x":2650,"y":11.6},{"x":2655,"y":10.0},{"x":2660,"y":8.8},{"x":2615,"y":11.8},{"x":2630,"y":8.4},{"x":2650,"y":9.4},{"x":2640,"y":11.0},{"x":2625,"y":12.0},{"x":2605,"y":10.4},{"x":2660,"y":10.4},{"x":2670,"y":9.6},
{"x":2622,"y":10.2},{"x":2632,"y":9.6},{"x":2642,"y":10.4},{"x":2652,"y":10.9},{"x":2638,"y":11.8},{"x":2628,"y":9.0},{"x":2646,"y":8.6},{"x":2618,"y":10.8},
{"x":2575,"y":6.0},{"x":2565,"y":4.5},{"x":2555,"y":3.0},{"x":2545,"y":1.5},{"x":2530,"y":0.3},
{"x":2550,"y":4.8},{"x":2600,"y":4.0},{"x":2760,"y":5.5},{"x":2800,"y":4.2},{"x":2720,"y":0.4},{"x":2770,"y":0.5},{"x":2650,"y":-0.3},{"x":2550,"y":0.2},{"x":2460,"y":0.4},{"x":2400,"y":1.5},{"x":2350,"y":2.8},{"x":2580,"y":1.8},{"x":2620,"y":4.8},{"x":2700,"y":2.5},{"x":2580,"y":6.0},{"x":2480,"y":9.0},{"x":2460,"y":11.0},{"x":2450,"y":8.0},{"x":2420,"y":9.5},{"x":2380,"y":10.5},{"x":2350,"y":11.5},{"x":2330,"y":9.0},{"x":2300,"y":10.5},{"x":2290,"y":8.0},{"x":2200,"y":4.0},{"x":2130,"y":7.0},{"x":2100,"y":8.5},{"x":2080,"y":6.5},{"x":2070,"y":10.5},{"x":2050,"y":11.5},{"x":2030,"y":9.0},{"x":2110,"y":11.5},{"x":2150,"y":12.5},{"x":2170,"y":10.0},{"x":2140,"y":9.5},{"x":2190,"y":12.8},{"x":2360,"y":18.2},{"x":2340,"y":17.5},{"x":2420,"y":17.0},{"x":2560,"y":19.5},{"x":2480,"y":18.0},{"x":2280,"y":16.0},{"x":2200,"y":17.2},{"x":2150,"y":18.0},{"x":2090,"y":17.5},{"x":2050,"y":16.8},{"x":2000,"y":17.0},{"x":1950,"y":16.3},{"x":2020,"y":19.0},
{"x":1700,"y":12.0},{"x":1730,"y":11.0},{"x":1760,"y":10.5},{"x":1790,"y":11.3},{"x":1820,"y":10.7},{"x":1850,"y":11.5},{"x":1880,"y":10.4},{"x":1910,"y":11.0},{"x":1940,"y":10.0},{"x":1970,"y":10.6},{"x":1850,"y":12.3},{"x":1900,"y":11.8},{"x":1960,"y":9.4},{"x":1930,"y":9.8}
]
},
"hconcat": [
{
  "width": 522, "height": 373,
  "title": {"text": "(a)", "fontSize": 19, "fontWeight": "normal"},
  "layer": [
    {"data": {"name": "phases"}, "mark": {"type": "rule", "strokeDash": [4, 3], "color": "#888", "strokeWidth": 1.2},
     "encoding": {"x": {"field": "t", "type": "quantitative", "scale": {"domain": [-100, 1900], "nice": false}}}},
    {"data": {"name": "speed"}, "mark": {"type": "line", "color": "#000", "strokeWidth": 2.4},
     "encoding": {
       "x": {"field": "t", "type": "quantitative", "scale": {"domain": [-100, 1900], "nice": false},
             "axis": {"values": [0, 300, 600, 900, 1200, 1500, 1800], "grid": false, "title": "Time [s]"}},
       "y": {"field": "v", "type": "quantitative", "scale": {"domain": [0, 140], "nice": false},
             "axis": {"values": [0, 20, 40, 60, 80, 100, 120, 140], "gridColor": "#bbb", "title": "Vehicle speed [km/h]"}}}},
    {"data": {"name": "plabels"}, "mark": {"type": "text", "fontWeight": "bold", "fontSize": 17, "color": "#777", "font": "Liberation Sans"},
     "encoding": {"x": {"field": "t", "type": "quantitative"}, "y": {"field": "v", "type": "quantitative"}, "text": {"field": "label"}}}
  ]
},
{
  "width": 522, "height": 373,
  "title": {"text": "(b)", "fontSize": 19, "fontWeight": "normal"},
  "layer": [
    {"data": {"name": "wltp"}, "mark": {"type": "point", "filled": true, "strokeWidth": 1},
     "encoding": {
       "x": {"field": "x", "type": "quantitative", "scale": {"domain": [602, 3112], "nice": false, "zero": false},
             "axis": {"values": [750, 1000, 1250, 1500, 1750, 2000, 2250, 2500, 2750, 3000], "labelExpr": "datum.value % 500 == 0 ? datum.label : ''", "title": "Engine speed [rpm]"}},
       "y": {"field": "y", "type": "quantitative", "scale": {"domain": [-5, 26.1], "nice": false, "zero": false},
             "axis": {"values": [-5, 0, 5, 10, 15, 20, 25], "labelExpr": "replace(datum.label, '\u2212', '-')", "title": "Engine BMEP [bar]"}},
       "color": {"datum": "WLTP points", "type": "nominal", "scale": {"domain": ["WLTP points", "To be optimized"], "range": ["#0d4f9a", "#ee1111"]},
                 "legend": {"orient": "top-left", "offset": 9, "title": null, "fillColor": "#fff", "strokeColor": "#ccc", "cornerRadius": 4, "padding": 9, "labelFontSize": 16.5, "labelFont": "Liberation Sans", "labelColor": "#222", "rowPadding": 8, "labelOffset": 12}},
       "shape": {"datum": "WLTP points", "type": "nominal", "scale": {"domain": ["WLTP points", "To be optimized"], "range": ["circle", "square"]}},
       "stroke": {"datum": "WLTP points", "type": "nominal", "scale": {"domain": ["WLTP points", "To be optimized"], "range": ["#0d4f9a", "#5a0a0a"]}},
       "opacity": {"datum": "WLTP points", "type": "nominal", "scale": {"domain": ["WLTP points", "To be optimized"], "range": [0.3, 1]}},
       "size": {"datum": "WLTP points", "type": "nominal", "scale": {"domain": ["WLTP points", "To be optimized"], "range": [42, 120]}}
     }},
    {"data": {"name": "opt"}, "mark": {"type": "point", "filled": true, "strokeWidth": 1},
     "encoding": {
       "x": {"field": "x", "type": "quantitative"},
       "y": {"field": "y", "type": "quantitative"},
       "color": {"datum": "To be optimized", "type": "nominal", "scale": {"domain": ["WLTP points", "To be optimized"], "range": ["#0d4f9a", "#ee1111"]}},
       "shape": {"datum": "To be optimized", "type": "nominal", "scale": {"domain": ["WLTP points", "To be optimized"], "range": ["circle", "square"]}},
       "stroke": {"datum": "To be optimized", "type": "nominal", "scale": {"domain": ["WLTP points", "To be optimized"], "range": ["#0d4f9a", "#5a0a0a"]}},
       "opacity": {"datum": "To be optimized", "type": "nominal", "scale": {"domain": ["WLTP points", "To be optimized"], "range": [0.3, 1]}},
       "size": {"datum": "To be optimized", "type": "nominal", "scale": {"domain": ["WLTP points", "To be optimized"], "range": [42, 120]}}
     }}
  ]
}
]
}
